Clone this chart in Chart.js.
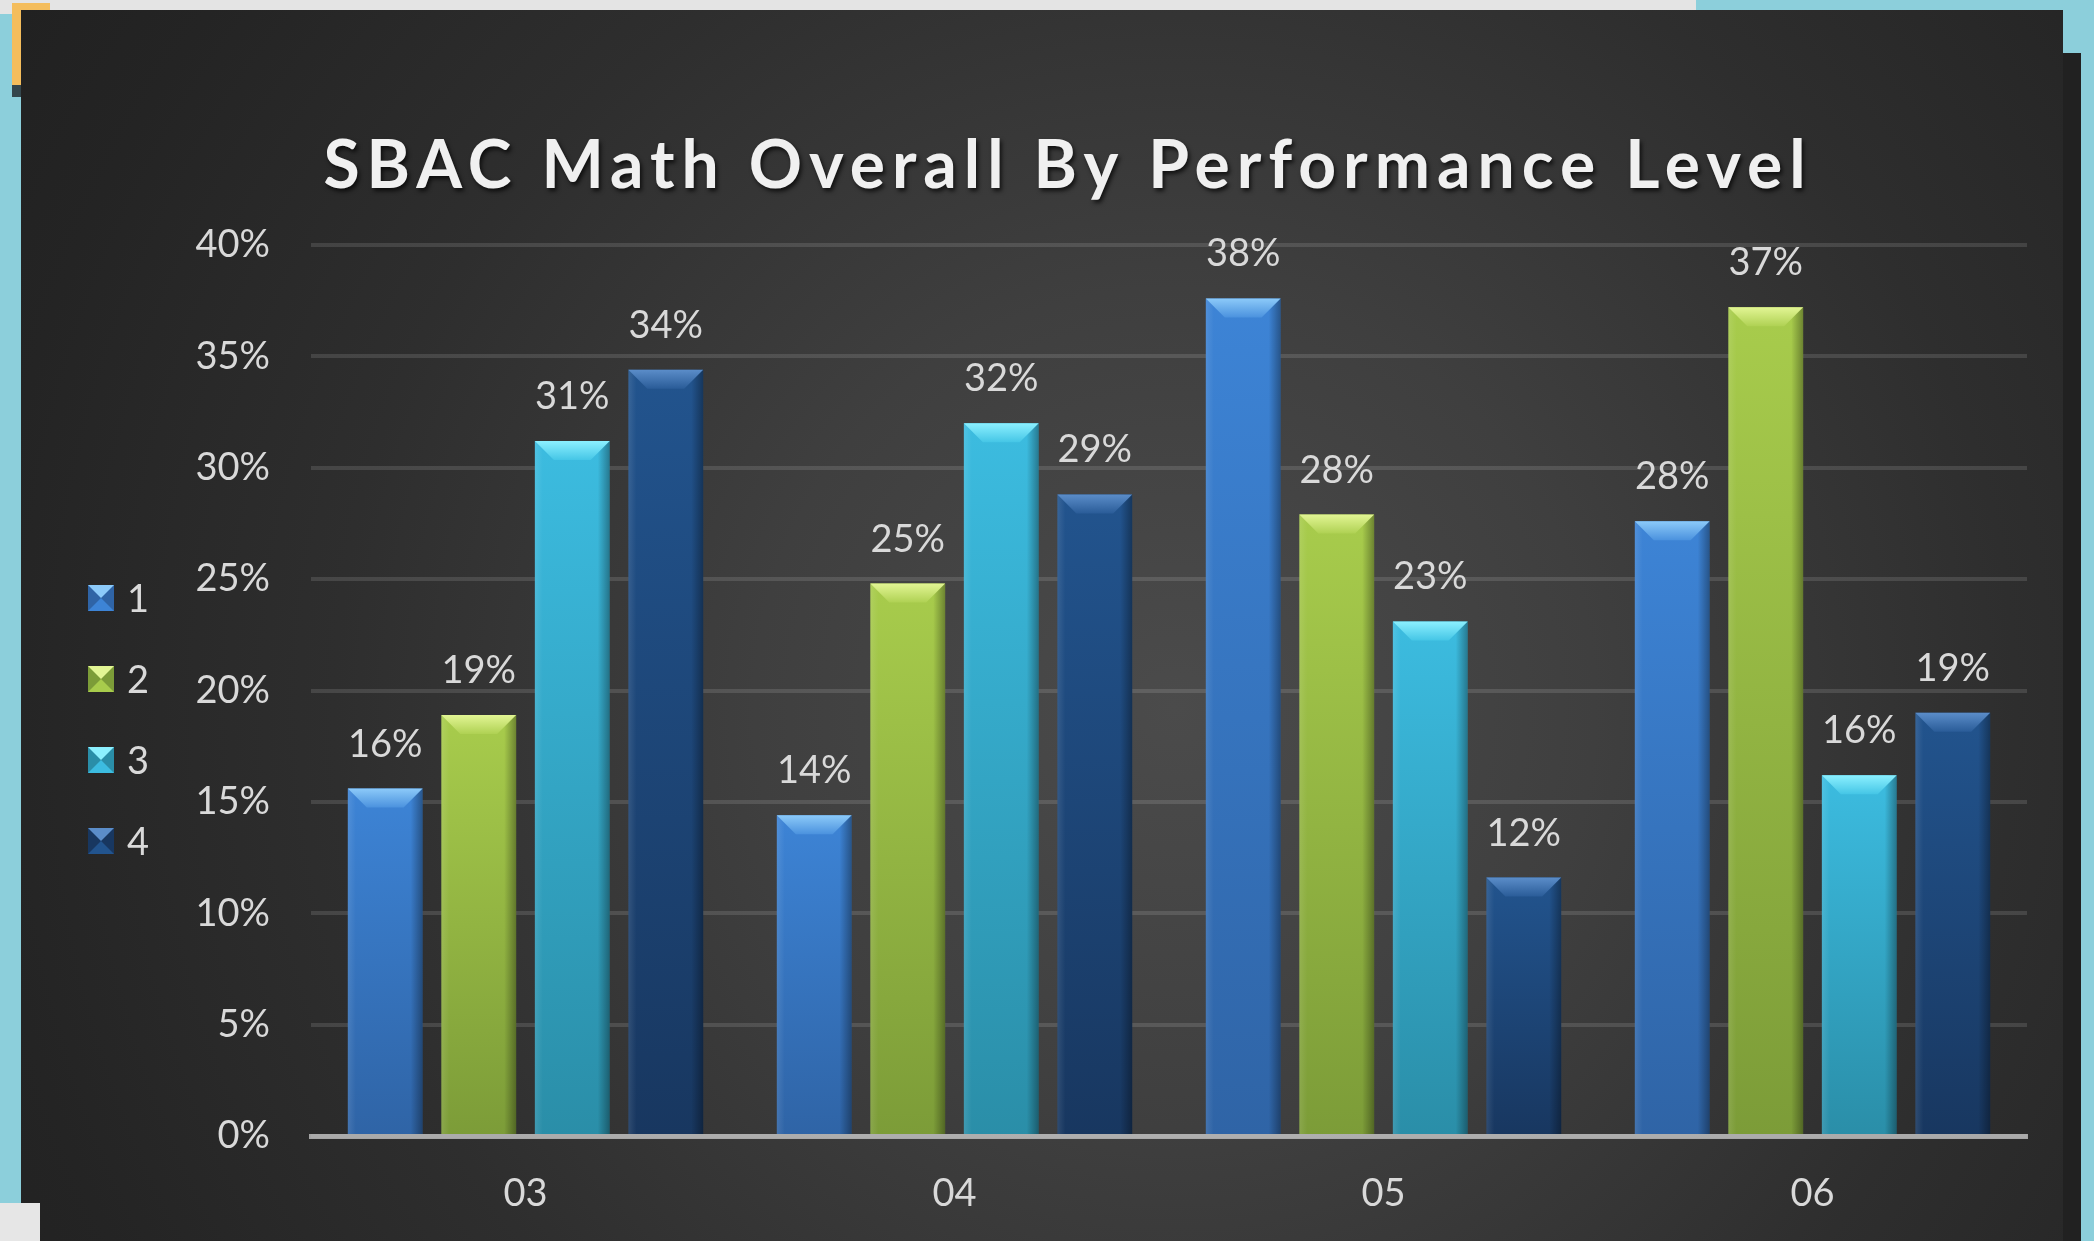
<!DOCTYPE html>
<html>
<head>
<meta charset="utf-8">
<title>SBAC Math Overall By Performance Level</title>
<script src="https://cdn.jsdelivr.net/npm/chart.js@4.4.1/dist/chart.umd.min.js"></script>
<style>
  html, body { margin: 0; padding: 0; }
  body { width: 2094px; height: 1241px; position: relative; overflow: hidden; background: #8ccfdb; }
  .strip { position: absolute; left: 0; top: 0; width: 1696px; height: 14px; background: #e4e4e4; }
  .tag { position: absolute; left: 12px; top: 3px; width: 38px; height: 82px; background: #f4bd5c; border-bottom: 12px solid #34464c; }
  .corner { position: absolute; left: 0; top: 1203px; width: 40px; height: 38px; background: #e6e6e6; }
  .panel {
    position: absolute; left: 21px; top: 10px; width: 2042px; height: 1231px;
    background: radial-gradient(circle 1400px at 1154px 698px, #4b4b4b 0%, #3f3f3f 30%, #2e2e2e 60%, #242424 85%, #202020 100%);
  }
  .panel2 { position: absolute; left: 2063px; top: 53px; width: 18px; height: 1188px; background: #212121; }
  #wrap { position: absolute; left: 0; top: 0; width: 2094px; height: 1241px; }
</style>
</head>
<body>
<div class="strip"></div>
<div class="tag"></div>
<div class="panel"></div>
<div class="panel2"></div>
<div class="corner"></div>
<div id="wrap"><canvas id="chart"></canvas></div>
<script>
// data (percent of students)
const chartTitle = "SBAC Math Overall By Performance Level";
const grades = ["03", "04", "05", "06"];
const levels = ["1", "2", "3", "4"];
const level1 = [15.6, 14.4, 37.6, 27.6];
const level2 = [18.9, 24.8, 27.9, 37.2];
const level3 = [31.2, 32.0, 23.1, 16.2];
const level4 = [34.4, 28.8, 11.6, 19.0];
const yMax = 40;
const yStep = 5;

// bar colours: hi = near top, lo = near axis, bevel = top facet
const palettes = [
  { hi: "#3d84d6", lo: "#2f64a6", bevelTop: "#8ccaf9", bevelBot: "#4b92de" },
  { hi: "#a8cc4c", lo: "#7c9c38", bevelTop: "#e2f594", bevelBot: "#afd153" },
  { hi: "#3cbce0", lo: "#2a8ea8", bevelTop: "#8cf0ff", bevelBot: "#45c6e6" },
  { hi: "#22548e", lo: "#183760", bevelTop: "#5b8dc9", bevelBot: "#2a5c98" },
];

const FONT = "Lato, 'Open Sans', sans-serif";
const TEXT = "#d9d9d9";

function barFill(pal) {
  return (ctx) => {
    const chart = ctx.chart;
    const y = chart.scales.y;
    if (!chart.chartArea || !y || ctx.raw == null) return pal.hi;
    const top = y.getPixelForValue(ctx.raw);
    const bottom = y.getPixelForValue(0);
    const g = chart.ctx.createLinearGradient(0, top, 0, bottom);
    g.addColorStop(0, pal.hi);
    g.addColorStop(1, pal.lo);
    return g;
  };
}

// top facet + edge shading of each bar, taken from the bar elements
const barBevel = {
  id: "barBevel",
  afterDatasetsDraw(chart) {
    const c = chart.ctx;
    c.save();
    chart.data.datasets.forEach((ds, i) => {
      const pal = palettes[i];
      chart.getDatasetMeta(i).data.forEach((bar) => {
        const { x, y, width, base } = bar.getProps(["x", "y", "width", "base"], true);
        const l = x - width / 2, r = x + width / 2, b = 19;
        // right edge darker
        let g = c.createLinearGradient(r - 12, 0, r, 0);
        g.addColorStop(0, "rgba(0,0,0,0)");
        g.addColorStop(1, "rgba(0,0,0,0.35)");
        c.fillStyle = g;
        c.fillRect(r - 12, y, 12, base - y);
        // left edge slightly lit
        g = c.createLinearGradient(l, 0, l + 8, 0);
        g.addColorStop(0, "rgba(255,255,255,0.10)");
        g.addColorStop(1, "rgba(255,255,255,0)");
        c.fillStyle = g;
        c.fillRect(l, y, 8, base - y);
        // top facet
        c.beginPath();
        c.moveTo(l, y);
        c.lineTo(r, y);
        c.lineTo(r - b, y + b);
        c.lineTo(l + b, y + b);
        c.closePath();
        g = c.createLinearGradient(0, y, 0, y + b);
        g.addColorStop(0, pal.bevelTop);
        g.addColorStop(1, pal.bevelBot);
        c.fillStyle = g;
        c.fill();
      });
    });
    c.restore();
  },
};

// rounded percentage above each bar
const valueLabels = {
  id: "valueLabels",
  afterDatasetsDraw(chart) {
    const c = chart.ctx;
    c.save();
    c.font = "38px " + FONT;
    c.fillStyle = TEXT;
    c.textAlign = "center";
    c.textBaseline = "alphabetic";
    chart.data.datasets.forEach((ds, i) => {
      chart.getDatasetMeta(i).data.forEach((bar, j) => {
        const { x, y } = bar.getProps(["x", "y"], true);
        c.fillText(Math.round(ds.data[j]) + "%", x, y - 32);
      });
    });
    c.restore();
  },
};

// letter-spaced title
const spacedTitle = {
  id: "spacedTitle",
  afterDraw(chart) {
    const c = chart.ctx;
    c.save();
    c.font = "bold 66px " + FONT;
    c.letterSpacing = "7px";
    c.fillStyle = "#f0f0f0";
    c.textAlign = "center";
    c.textBaseline = "alphabetic";
    c.shadowColor = "rgba(0,0,0,0.7)";
    c.shadowOffsetX = 2;
    c.shadowOffsetY = 3;
    c.shadowBlur = 4;
    c.fillText(chartTitle, 1068, 188);
    c.restore();
  },
};

// vertical legend on the left
const sideLegend = {
  id: "sideLegend",
  afterDraw(chart) {
    const c = chart.ctx;
    c.save();
    c.font = "38px " + FONT;
    c.fillStyle = TEXT;
    c.textBaseline = "alphabetic";
    chart.data.datasets.forEach((ds, i) => {
      const pal = palettes[i];
      const cy = 598 + i * 81, bx = 88, s = 26;
      const top = cy - s / 2;
      c.fillStyle = pal.lo;
      c.fillRect(bx, top, s, s);
      c.beginPath();
      c.moveTo(bx, top);
      c.lineTo(bx + s, top);
      c.lineTo(bx + s / 2, top + s / 2);
      c.closePath();
      c.fillStyle = pal.bevelTop;
      c.fill();
      c.beginPath();
      c.moveTo(bx, top + s);
      c.lineTo(bx + s, top + s);
      c.lineTo(bx + s / 2, top + s / 2);
      c.closePath();
      c.fillStyle = pal.hi;
      c.fill();
      c.fillStyle = TEXT;
      c.fillText(ds.label, 127, cy + 14);
    });
    c.restore();
  },
};

const series = [level1, level2, level3, level4];

new Chart(document.getElementById("chart"), {
  type: "bar",
  data: {
    labels: grades,
    datasets: series.map((vals, i) => ({
      label: levels[i],
      data: vals,
      backgroundColor: barFill(palettes[i]),
      borderWidth: 0,
      categoryPercentage: 0.872,
      barPercentage: 0.8,
    })),
  },
  options: {
    responsive: true,
    maintainAspectRatio: false,
    animation: false,
    layout: { padding: { left: 150, right: 67, top: 245, bottom: 0 } },
    plugins: {
      legend: { display: false },
      title: { display: false },
      tooltip: { enabled: false },
    },
    scales: {
      x: {
        z: 1,
        grid: { display: false, drawTicks: false },
        border: { display: true, color: "rgba(205,205,205,0.75)", width: 5 },
        ticks: { color: TEXT, font: { family: FONT, size: 38 }, padding: 35 },
        afterFit(scale) { scale.height = 105; },
      },
      y: {
        min: 0,
        max: yMax,
        grid: { color: "rgba(255,255,255,0.12)", lineWidth: 4, drawTicks: false },
        border: { display: false },
        ticks: {
          stepSize: yStep,
          color: TEXT,
          font: { family: FONT, size: 38 },
          padding: 41,
          callback: (v) => v + "%",
        },
        afterFit(scale) { scale.width = 161; },
      },
    },
  },
  plugins: [barBevel, valueLabels, spacedTitle, sideLegend],
});
</script>
</body>
</html>
